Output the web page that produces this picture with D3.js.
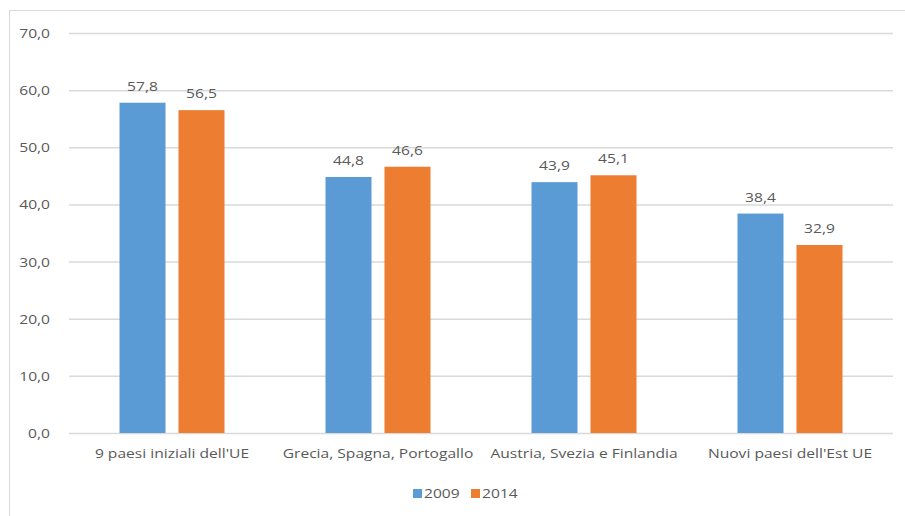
<!DOCTYPE html>
<html>
<head>
<meta charset="utf-8">
<script src="https://cdn.jsdelivr.net/npm/d3@7"></script>
<style>
  body { margin: 0; background: #fff; }
  text { font-family: "Open Sans", Lato, sans-serif; fill: #595959; font-size: 13.5px; }
</style>
</head>
<body>
<div id="chart"></div>
<script>
// data
const categories = ["9 paesi iniziali dell'UE", "Grecia, Spagna, Portogallo", "Austria, Svezia e Finlandia", "Nuovi paesi dell'Est UE"]
const seriesNames = ["2009", "2014"]
const values2009 = [57.8, 44.8, 43.9, 38.4]
const values2014 = [56.5, 46.6, 45.1, 32.9]
const yTicks = [0, 10, 20, 30, 40, 50, 60, 70]
const colours = ["#5b9bd5", "#ed7d31"]

const width = 905, height = 516
const fmt = v => v.toFixed(1).replace(".", ",")

let svg = d3.select("#chart").append("svg")
    .attr("width", width)
    .attr("height", height)

// the original picture is a bit widened: measure the category labels and stretch all text to fit
let probe = svg.append("text")
let total = 0
categories.forEach(c => { probe.text(c); total += probe.node().getComputedTextLength() })
probe.remove()
let stretch = 697 / total
const place = (px, py) => `translate(${px},${py}) scale(${stretch},1)`

// outer border
svg.append("rect")
    .attr("x", 9.5).attr("y", 10.5)
    .attr("width", width).attr("height", height)
    .attr("fill", "none")
    .attr("stroke", "#d9d9d9")

let x = d3.scaleBand()
    .domain(categories)
    .range([69, 893])

let xInner = d3.scaleBand()
    .domain(seriesNames)
    .range([50.5, 155.5])
    .paddingInner(0.22)

let y = d3.scaleLinear()
    .domain([0, 70])
    .range([433, 33])

// gridlines
svg.append("g")
    .selectAll("line")
    .data(yTicks)
    .enter()
    .append("line")
    .attr("x1", 69).attr("x2", 893)
    .attr("y1", d => y(d) + 0.5).attr("y2", d => y(d) + 0.5)
    .attr("stroke", "#d9d9d9")
    .attr("stroke-width", 1.5)

// y labels
svg.append("g")
    .selectAll("text")
    .data(yTicks)
    .enter()
    .append("text")
    .attr("transform", d => place(50, y(d) + 5))
    .attr("text-anchor", "end")
    .text(fmt)

// bars
let rows = categories.map((c, i) => [
    {cat: c, s: seriesNames[0], v: values2009[i], col: colours[0]},
    {cat: c, s: seriesNames[1], v: values2014[i], col: colours[1]}
]).flat()

let bars = svg.append("g")
bars.selectAll("rect")
    .data(rows)
    .enter()
    .append("rect")
    .attr("x", d => x(d.cat) + xInner(d.s))
    .attr("width", xInner.bandwidth())
    .attr("y", d => y(d.v))
    .attr("height", d => y(0) - y(d.v))
    .attr("fill", d => d.col)

// value labels
bars.selectAll("text")
    .data(rows)
    .enter()
    .append("text")
    .attr("transform", d => place(x(d.cat) + xInner(d.s) + xInner.bandwidth() / 2, y(d.v) - 12))
    .attr("text-anchor", "middle")
    .text(d => fmt(d.v))

// category labels
svg.append("g")
    .selectAll("text")
    .data(categories)
    .enter()
    .append("text")
    .attr("transform", d => place(x(d) + x.bandwidth() / 2, 458))
    .attr("text-anchor", "middle")
    .text(d => d)

// legend
let legend = svg.append("g")
let legendX = [413, 471]
seriesNames.forEach((s, i) => {
    legend.append("rect")
        .attr("x", legendX[i]).attr("y", 489)
        .attr("width", 9).attr("height", 9)
        .attr("fill", colours[i])
    legend.append("text")
        .attr("transform", place(legendX[i] + 11, 498))
        .text(s)
})
</script>
</body>
</html>
